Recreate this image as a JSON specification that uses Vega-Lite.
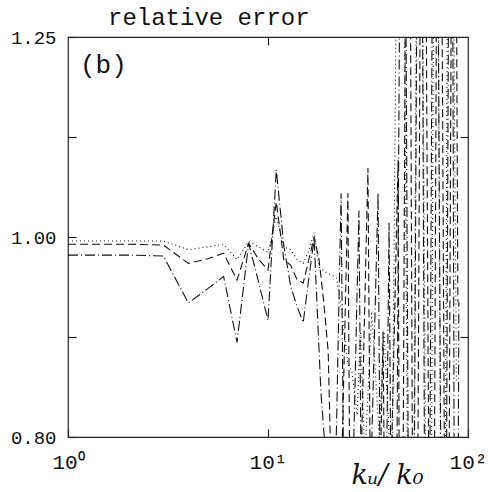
{
  "$schema": "https://vega.github.io/schema/vega-lite/v6.json",
  "width": 400,
  "height": 400,
  "autosize": {"type": "none"},
  "padding": {"left": 68, "top": 37, "right": 34, "bottom": 55},
  "background": "white",
  "config": {
    "view": {"stroke": "#222", "strokeWidth": 1.2},
    "axis": {"grid": false, "domain": false, "tickColor": "#222", "tickWidth": 1.2, "labelColor": "#111"}
  },
  "title": {"text": "relative error", "font": "Liberation Mono", "fontSize": 24, "fontWeight": "normal", "color": "#111", "anchor": "start", "frame": "group", "dx": 40, "offset": -2},
  "datasets": {
    "curves": [
      {"s": "dot", "k": 1, "r": 0.9955}, {"s": "dot", "k": 2, "r": 0.9955}, {"s": "dot", "k": 3, "r": 0.9955}, {"s": "dot", "k": 4, "r": 0.986}, {"s": "dot", "k": 5, "r": 0.989}, {"s": "dot", "k": 6, "r": 0.992}, {"s": "dot", "k": 7, "r": 0.975}, {"s": "dot", "k": 8, "r": 0.995}, {"s": "dot", "k": 9, "r": 0.989}, {"s": "dot", "k": 10, "r": 0.983}, {"s": "dot", "k": 11, "r": 1.023}, {"s": "dot", "k": 12, "r": 0.989}, {"s": "dot", "k": 13, "r": 0.986}, {"s": "dot", "k": 14, "r": 0.975}, {"s": "dot", "k": 15, "r": 0.971}, {"s": "dot", "k": 16, "r": 0.985}, {"s": "dot", "k": 17, "r": 1.005}, {"s": "dot", "k": 18, "r": 0.967}, {"s": "dot", "k": 19, "r": 0.963}, {"s": "dot", "k": 20, "r": 0.96}, {"s": "dot", "k": 21, "r": 0.958}, {"s": "dot", "k": 22, "r": 0.955}, {"s": "dot", "k": 23, "r": 0.93}, {"s": "dot", "k": 24, "r": 0.9}, {"s": "dot", "k": 25, "r": 0.87}, {"s": "dot", "k": 26.3, "r": 0.86}, {"s": "dot", "k": 27.9, "r": 0.82}, {"s": "dot", "k": 29, "r": 0.9}, {"s": "dot", "k": 30.5, "r": 0.78}, {"s": "dot", "k": 33, "r": 0.92}, {"s": "dot", "k": 36, "r": 0.8}, {"s": "dot", "k": 38, "r": 0.9}, {"s": "dot", "k": 41.7, "r": 0.75}, {"s": "dot", "k": 46.2, "r": 2.5}, {"s": "dot", "k": 51.9, "r": 0.4}, {"s": "dot", "k": 57, "r": 2.5}, {"s": "dot", "k": 64, "r": 0.4}, {"s": "dot", "k": 69, "r": 2.5}, {"s": "dot", "k": 75, "r": 0.4}, {"s": "dot", "k": 81, "r": 2.5}, {"s": "dot", "k": 87.5, "r": 0.85},
      {"s": "dash", "k": 1, "r": 0.992}, {"s": "dash", "k": 2, "r": 0.992}, {"s": "dash", "k": 3, "r": 0.991}, {"s": "dash", "k": 4, "r": 0.971}, {"s": "dash", "k": 5, "r": 0.976}, {"s": "dash", "k": 6, "r": 0.982}, {"s": "dash", "k": 7, "r": 0.953}, {"s": "dash", "k": 8, "r": 0.993}, {"s": "dash", "k": 9, "r": 0.975}, {"s": "dash", "k": 10, "r": 0.964}, {"s": "dash", "k": 11, "r": 1.04}, {"s": "dash", "k": 12, "r": 0.975}, {"s": "dash", "k": 13, "r": 0.969}, {"s": "dash", "k": 14, "r": 0.953}, {"s": "dash", "k": 15, "r": 0.95}, {"s": "dash", "k": 16, "r": 0.975}, {"s": "dash", "k": 17, "r": 1.0}, {"s": "dash", "k": 18, "r": 0.975}, {"s": "dash", "k": 19, "r": 0.93}, {"s": "dash", "k": 20, "r": 0.88}, {"s": "dash", "k": 21, "r": 0.72}, {"s": "dash", "k": 22, "r": 0.6}, {"s": "dash", "k": 25.1, "r": 1.05}, {"s": "dash", "k": 26.3, "r": 0.5}, {"s": "dash", "k": 31.6, "r": 1.08}, {"s": "dash", "k": 33.5, "r": 0.5}, {"s": "dash", "k": 37.6, "r": 0.9}, {"s": "dash", "k": 39, "r": 0.6}, {"s": "dash", "k": 44.7, "r": 1.09}, {"s": "dash", "k": 46.2, "r": 0.45}, {"s": "dash", "k": 50.1, "r": 2.5}, {"s": "dash", "k": 54.3, "r": 0.4}, {"s": "dash", "k": 59.6, "r": 2.5}, {"s": "dash", "k": 66, "r": 0.4}, {"s": "dash", "k": 71.6, "r": 2.5}, {"s": "dash", "k": 78.5, "r": 0.45}, {"s": "dash", "k": 85, "r": 2.5}, {"s": "dash", "k": 89, "r": 0.93},
      {"s": "dashdot", "k": 1, "r": 0.98}, {"s": "dashdot", "k": 2, "r": 0.98}, {"s": "dashdot", "k": 3, "r": 0.979}, {"s": "dashdot", "k": 4, "r": 0.929}, {"s": "dashdot", "k": 5, "r": 0.944}, {"s": "dashdot", "k": 6, "r": 0.957}, {"s": "dashdot", "k": 7, "r": 0.889}, {"s": "dashdot", "k": 8, "r": 0.993}, {"s": "dashdot", "k": 9, "r": 0.95}, {"s": "dashdot", "k": 10, "r": 0.911}, {"s": "dashdot", "k": 11, "r": 1.078}, {"s": "dashdot", "k": 12, "r": 0.99}, {"s": "dashdot", "k": 13, "r": 0.946}, {"s": "dashdot", "k": 14, "r": 0.925}, {"s": "dashdot", "k": 15, "r": 0.909}, {"s": "dashdot", "k": 16, "r": 0.955}, {"s": "dashdot", "k": 17, "r": 0.998}, {"s": "dashdot", "k": 18.4, "r": 0.84}, {"s": "dashdot", "k": 19.5, "r": 0.78}, {"s": "dashdot", "k": 20.7, "r": 0.6}, {"s": "dashdot", "k": 23.2, "r": 1.05}, {"s": "dashdot", "k": 24.6, "r": 0.55}, {"s": "dashdot", "k": 28.5, "r": 1.03}, {"s": "dashdot", "k": 30, "r": 0.55}, {"s": "dashdot", "k": 35.5, "r": 1.05}, {"s": "dashdot", "k": 37.5, "r": 0.5}, {"s": "dashdot", "k": 40.3, "r": 1.016}, {"s": "dashdot", "k": 42.7, "r": 0.45}, {"s": "dashdot", "k": 47.3, "r": 2.5}, {"s": "dashdot", "k": 52, "r": 0.4}, {"s": "dashdot", "k": 57.5, "r": 2.5}, {"s": "dashdot", "k": 62.4, "r": 0.4}, {"s": "dashdot", "k": 68.4, "r": 2.5}, {"s": "dashdot", "k": 75.9, "r": 0.4}, {"s": "dashdot", "k": 82.2, "r": 2.5}, {"s": "dashdot", "k": 87.1, "r": 0.4}, {"s": "dashdot", "k": 90, "r": 0.93}
    ],
    "labels": [{"k": 1.148, "r": 1.212, "t": "(b)"}]
  },
  "resolve": {"axis": {"x": "independent", "y": "independent"}},
  "layer": [
    {
      "data": {"name": "curves"},
      "mark": {"type": "line", "clip": true, "strokeWidth": 1.1, "color": "#111"},
      "encoding": {
        "x": {"field": "k", "type": "quantitative", "scale": {"type": "log", "domain": [1, 100], "nice": false},
          "axis": {"orient": "bottom", "values": [1, 10, 100], "labelExpr": "datum.value == 1 ? '10⁰' : datum.value == 10 ? '10¹' : '10²'", "tickSize": -8, "labelPadding": 22, "labelFont": "Liberation Mono", "labelFontSize": 21, "labelFlush": false,
            "title": "kᵤ/ k₀", "titleFont": "DejaVu Serif", "titleFontStyle": "italic", "titleFontWeight": "normal", "titleFontSize": 27, "titleColor": "#111", "titleX": 319, "titleY": 38, "titleAlign": "center", "titleBaseline": "middle"}},
        "y": {"field": "r", "type": "quantitative", "scale": {"type": "log", "domain": [0.8, 1.25], "nice": false},
          "axis": {"orient": "left", "values": [0.8, 0.894427, 1, 1.118034, 1.25], "labelExpr": "datum.value == 0.8 || datum.value == 1 || datum.value == 1.25 ? format(datum.value, '.2f') : ''", "tickSize": -8, "labelPadding": 20, "labelFont": "Liberation Mono", "labelFontSize": 19, "labelFlush": false, "title": null}},
        "detail": {"field": "s"},
        "strokeDash": {"field": "s", "type": "nominal", "scale": {"domain": ["dot", "dash", "dashdot"], "range": [[1, 3], [8, 4], [10, 3, 1, 3]]}, "legend": null}
      }
    },
    {
      "mark": {"type": "rule", "color": "#111", "strokeWidth": 1.1},
      "encoding": {
        "y": {"datum": 1, "type": "quantitative", "scale": {"type": "log", "domain": [0.8, 1.25], "nice": false}, "axis": {"orient": "right", "values": [0.894427, 1.118034], "labels": false, "tickSize": -8, "title": null}}
      }
    },
    {
      "data": {"name": "labels"},
      "mark": {"type": "text", "font": "Liberation Mono", "fontSize": 26, "align": "left", "baseline": "middle", "color": "#111"},
      "encoding": {
        "x": {"field": "k", "type": "quantitative", "scale": {"type": "log", "domain": [1, 100], "nice": false}, "axis": {"orient": "top", "values": [10], "labels": false, "tickSize": -8, "title": null}},
        "y": {"field": "r", "type": "quantitative", "scale": {"type": "log", "domain": [0.8, 1.25], "nice": false}, "axis": null},
        "text": {"field": "t"}
      }
    }
  ]
}
